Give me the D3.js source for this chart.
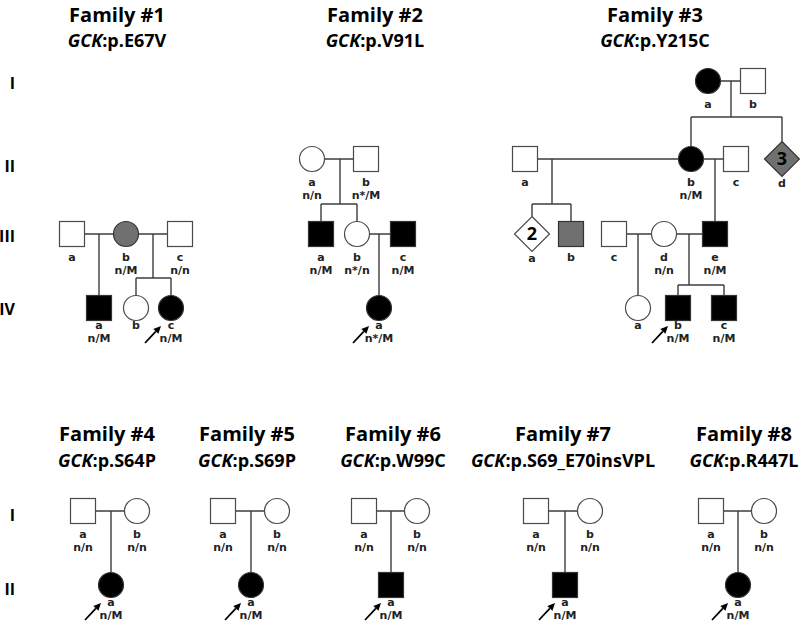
<!DOCTYPE html>
<html><head><meta charset="utf-8">
<script src="https://cdn.jsdelivr.net/npm/d3@7"></script>
<style>body{margin:0;background:#fff}svg{display:block}</style>
</head><body>
<svg id="chart" width="800" height="624"></svg>
<script>
// ---------- data ----------
const familyNames = ["Family #1","Family #2","Family #3","Family #4","Family #5","Family #6","Family #7","Family #8"];
const geneSymbol = "GCK";
const variants = [":p.E67V",":p.V91L",":p.Y215C",":p.S64P",":p.S69P",":p.W99C",":p.S69_E70insVPL",":p.R447L"];
const titleCols = [11.7, 37.5, 65.5, 10.7, 24.7, 39.3, 56.3, 74.4];
const generationLabels = ["I","II","III","IV"];
// individuals: [family, generation, id, sex (M/F/U), phenotype (0 unaffected, 1 affected, 2 uncertain), genotype, proband, count, col]
const individuals = [
  [1,"III","a","M",0,"",0,null,7.2],
  [1,"III","b","F",2,"n/M",0,null,12.6],
  [1,"III","c","M",0,"n/n",0,null,18.0],
  [1,"IV","a","M",1,"n/M",0,null,9.9],
  [1,"IV","b","F",0,"",0,null,13.6],
  [1,"IV","c","F",1,"n/M",1,null,17.1],
  [2,"II","a","F",0,"n/n",0,null,31.2],
  [2,"II","b","M",0,"n*/M",0,null,36.6],
  [2,"III","a","M",1,"n/M",0,null,32.1],
  [2,"III","b","F",0,"n*/n",0,null,35.7],
  [2,"III","c","M",1,"n/M",0,null,40.3],
  [2,"IV","a","F",1,"n*/M",1,null,37.9],
  [3,"I","a","F",1,"",0,null,70.8],
  [3,"I","b","M",0,"",0,null,75.3],
  [3,"II","a","M",0,"",0,null,52.5],
  [3,"II","b","F",1,"n/M",0,null,69.1],
  [3,"II","c","M",0,"",0,null,73.6],
  [3,"II","d","U",2,"",0,"3",78.2],
  [3,"III","a","U",0,"",0,"2",53.2],
  [3,"III","b","M",2,"",0,null,57.1],
  [3,"III","c","M",0,"",0,null,61.4],
  [3,"III","d","F",0,"n/n",0,null,66.4],
  [3,"III","e","M",1,"n/M",0,null,71.5],
  [3,"IV","a","F",0,"",0,null,63.8],
  [3,"IV","b","M",1,"n/M",1,null,67.8],
  [3,"IV","c","M",1,"n/M",0,null,72.4],
  [4,"I","a","M",0,"n/n",0,null,8.3],
  [4,"I","b","F",0,"n/n",0,null,13.7],
  [4,"II","a","F",1,"n/M",1,null,11.1],
  [5,"I","a","M",0,"n/n",0,null,22.3],
  [5,"I","b","F",0,"n/n",0,null,27.7],
  [5,"II","a","F",1,"n/M",1,null,25.1],
  [6,"I","a","M",0,"n/n",0,null,36.4],
  [6,"I","b","F",0,"n/n",0,null,41.7],
  [6,"II","a","M",1,"n/M",1,null,39.1],
  [7,"I","a","M",0,"n/n",0,null,53.6],
  [7,"I","b","F",0,"n/n",0,null,59.0],
  [7,"II","a","M",1,"n/M",1,null,56.5],
  [8,"I","a","M",0,"n/n",0,null,71.1],
  [8,"I","b","F",0,"n/n",0,null,76.4],
  [8,"II","a","F",1,"n/M",1,null,73.8]
];
// matings: [family, generation, partner1, partner2, dropCol, children ids (next generation), sibship gap]
const matings = [
  [1,"III","a","b",9.9,["a"],0],
  [1,"III","b","c",15.3,["b","c"],30],
  [2,"II","a","b",34.0,["a","b"],30],
  [2,"III","b","c",37.9,["a"],0],
  [3,"I","a","b",73.1,["b","d"],42],
  [3,"II","a","b",55.2,["a","b"],30],
  [3,"II","b","c",71.5,["e"],0],
  [3,"III","c","d",63.8,["a"],0],
  [3,"III","d","e",68.9,["b","c"],23],
  [4,"I","a","b",11.1,["a"],0],
  [5,"I","a","b",25.1,["a"],0],
  [6,"I","a","b",39.1,["a"],0],
  [7,"I","a","b",56.5,["a"],0],
  [8,"I","a","b",73.8,["a"],0]
];

// ---------- scales ----------
const svg = d3.select("#chart");
const x = d3.scaleLinear().domain([0, 80]).range([0, 800]);
const yTop = d3.scaleOrdinal(generationLabels, [81, 159, 234, 308]);
const yBottom = d3.scaleOrdinal(["I","II"], [511, 585]);
const yTopLabel = d3.scaleOrdinal(generationLabels, [83, 166, 236, 309]);
const yBottomLabel = d3.scaleOrdinal(["I","II"], [515, 589]);
const rowY = (fam, gen) => fam <= 3 ? yTop(gen) : yBottom(gen);
const lastGen = fam => fam <= 3 ? "IV" : "II";
const nextGen = g => generationLabels[generationLabels.indexOf(g) + 1];

const people = individuals.map(d => ({fam:d[0], gen:d[1], id:d[2], sex:d[3], pheno:d[4], geno:d[5], proband:d[6], count:d[7], col:d[8]}));
const find = (fam, gen, id) => people.find(p => p.fam === fam && p.gen === gen && p.id === id);

const FONT = "'Open Sans', 'DejaVu Sans', sans-serif";
const LABEL_FONT = "'DejaVu Sans', sans-serif";
const LINE = "#3c3c3c";
const HALF = 12.5, DIAM = 17.5;
const fills = ["#ffffff", "#000000", "#707070"];

// ---------- titles ----------
familyNames.forEach((name, i) => {
  const top = i < 3;
  const cx = x(titleCols[i]);
  svg.append("text").attr("x", cx).attr("y", top ? 21.5 : 441)
    .attr("text-anchor", "middle").attr("font-family", FONT).attr("font-weight", 700)
    .attr("font-size", 20).attr("fill", "#000").text(name);
  const t = svg.append("text").attr("x", cx).attr("y", top ? 46.5 : 467)
    .attr("text-anchor", "middle").attr("font-family", FONT).attr("font-weight", 700)
    .attr("font-size", 18).attr("fill", "#000");
  t.append("tspan").attr("font-style", "italic").text(geneSymbol);
  t.append("tspan").text(variants[i]);
});

// ---------- generation labels ----------
generationLabels.forEach(g => {
  svg.append("text").attr("x", 15).attr("y", yTopLabel(g)).attr("dy", "0.36em")
    .attr("text-anchor", "end").attr("font-family", FONT).attr("font-weight", 700)
    .attr("font-size", 16).text(g);
});
["I","II"].forEach(g => {
  svg.append("text").attr("x", 15).attr("y", yBottomLabel(g)).attr("dy", "0.36em")
    .attr("text-anchor", "end").attr("font-family", FONT).attr("font-weight", 700)
    .attr("font-size", 16).text(g);
});

// ---------- lines ----------
const lines = svg.append("g").attr("stroke", LINE).attr("stroke-width", 1.4).attr("fill", "none");
matings.forEach(([fam, gen, p1, p2, dropCol, kids, gap]) => {
  const a = find(fam, gen, p1), b = find(fam, gen, p2);
  const y0 = rowY(fam, gen);
  lines.append("line").attr("x1", x(a.col)).attr("x2", x(b.col)).attr("y1", y0).attr("y2", y0);
  const cg = nextGen(gen);
  const cy = rowY(fam, cg);
  const children = kids.map(k => find(fam, cg, k));
  const topOf = c => cy - (c.sex === "U" ? DIAM : HALF);
  const dx = x(dropCol);
  if (children.length === 1 && !gap) {
    lines.append("line").attr("x1", dx).attr("x2", dx).attr("y1", y0).attr("y2", topOf(children[0]));
  } else {
    const sy = cy - gap;
    lines.append("line").attr("x1", dx).attr("x2", dx).attr("y1", y0).attr("y2", sy);
    const xs = children.map(c => x(c.col));
    lines.append("line").attr("x1", d3.min(xs)).attr("x2", d3.max(xs)).attr("y1", sy).attr("y2", sy);
    children.forEach(c => {
      lines.append("line").attr("x1", x(c.col)).attr("x2", x(c.col)).attr("y1", sy).attr("y2", topOf(c));
    });
  }
});

// ---------- symbols ----------
const sym = svg.append("g");
people.forEach(p => {
  const cx = x(p.col), cy = rowY(p.fam, p.gen);
  const fill = fills[p.pheno];
  let el;
  if (p.sex === "M") {
    el = sym.append("rect").attr("x", cx - HALF).attr("y", cy - HALF).attr("width", 2 * HALF).attr("height", 2 * HALF);
  } else if (p.sex === "F") {
    el = sym.append("circle").attr("cx", cx).attr("cy", cy).attr("r", HALF);
  } else {
    el = sym.append("path").attr("d", `M${cx},${cy - DIAM}L${cx + DIAM},${cy}L${cx},${cy + DIAM}L${cx - DIAM},${cy}Z`);
  }
  el.attr("fill", fill).attr("stroke", p.pheno === 0 ? "#4a4a4a" : "#333").attr("stroke-width", 1.2);
  if (p.count) {
    sym.append("text").attr("x", cx).attr("y", cy).attr("dy", "0.36em").attr("text-anchor", "middle")
      .attr("font-family", FONT).attr("font-weight", 700).attr("font-size", 18).attr("fill", "#000").text(p.count);
  }
  const last = p.gen === lastGen(p.fam);
  const ly = cy + (last ? 21 : 27) + (p.sex === "U" ? 1 : 0);
  sym.append("text").attr("x", cx).attr("y", ly).attr("text-anchor", "middle")
    .attr("font-family", LABEL_FONT).attr("font-weight", 700).attr("font-size", 11).attr("fill", "#222").text(p.id);
  if (p.geno) {
    sym.append("text").attr("x", cx).attr("y", ly + 13).attr("text-anchor", "middle")
      .attr("font-family", LABEL_FONT).attr("font-weight", 700).attr("font-size", 11).attr("fill", "#222").text(p.geno);
  }
  if (p.proband) {
    const x1 = cx - 26, y1 = cy + 35, x2 = cx - 10, y2 = cy + 18;
    const ang = Math.atan2(y2 - y1, x2 - x1);
    const L = 7.5, W = 3.5;
    const bx = x2 - L * Math.cos(ang), by = y2 - L * Math.sin(ang);
    sym.append("line").attr("x1", x1).attr("y1", y1).attr("x2", bx).attr("y2", by)
      .attr("stroke", "#000").attr("stroke-width", 1.8);
    const px = -Math.sin(ang), py = Math.cos(ang);
    sym.append("path").attr("d", `M${x2},${y2}L${bx + W * px},${by + W * py}L${bx - W * px},${by - W * py}Z`).attr("fill", "#000");
  }
});
</script>
</body></html>
